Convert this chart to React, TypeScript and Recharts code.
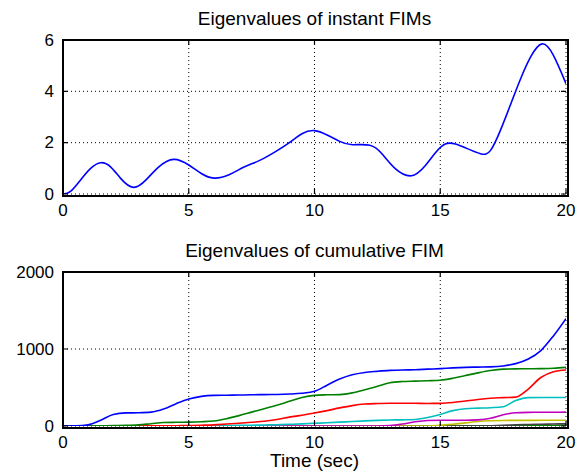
import React from "react";
import { LineChart, Line, XAxis, YAxis, CartesianGrid } from "recharts";

// ---- data ----
const topTimes = [0, 0.3, 0.7, 1.1, 1.5, 1.9, 2.3, 2.8, 3.3, 3.8, 4.4, 5.0, 5.5, 6.0, 6.6, 7.2, 7.8, 8.4, 9.0, 9.5, 10.0, 10.5, 11.0, 11.5, 12.2, 12.7, 13.2, 13.85, 14.4, 14.8, 15.2, 15.6, 16.0, 16.6, 17.0, 17.4, 17.8, 18.2, 18.6, 19.05, 19.5, 20];
const topValues = [0, 0.1, 0.55, 1.0, 1.22, 1.05, 0.6, 0.26, 0.55, 1.05, 1.35, 1.13, 0.8, 0.62, 0.75, 1.05, 1.3, 1.62, 2.0, 2.35, 2.47, 2.3, 2.05, 1.92, 1.9, 1.55, 1.0, 0.71, 1.1, 1.6, 1.95, 1.95, 1.8, 1.57, 1.7, 2.5, 3.5, 4.5, 5.35, 5.85, 5.4, 4.3];

const bottomTimes = [0, 0.5, 1, 1.5, 2, 2.5, 3, 3.5, 4, 4.5, 5, 5.5, 6, 6.5, 7, 7.5, 8, 8.5, 9, 9.5, 10, 10.5, 11, 11.5, 12, 12.5, 13, 13.5, 14, 14.5, 15, 15.5, 16, 16.5, 17, 17.5, 18, 18.5, 19, 19.5, 20];
const eigBlue = [0, 2, 15, 75, 150, 170, 172, 180, 220, 290, 350, 385, 398, 400, 402, 405, 408, 410, 415, 425, 450, 530, 610, 665, 695, 710, 722, 728, 730, 738, 745, 755, 762, 765, 768, 780, 810, 870, 980, 1170, 1395];
const eigGreen = [0, 0, 0, 2, 5, 8, 15, 30, 45, 48, 50, 55, 65, 95, 135, 180, 225, 270, 320, 370, 398, 405, 408, 430, 470, 515, 562, 578, 583, 588, 595, 620, 655, 690, 720, 738, 742, 743, 745, 750, 762];
const eigRed = [0, 0, 0, 0, 0, 0, 1, 2, 3, 4, 6, 10, 15, 25, 35, 48, 62, 85, 115, 140, 168, 200, 235, 265, 285, 292, 295, 296, 295, 293, 294, 305, 325, 345, 360, 368, 375, 480, 630, 705, 728];
const eigCyan = [0, 0, 0, 0, 0, 0, 0, 0, 0, 1, 2, 3, 4, 6, 8, 10, 13, 17, 22, 28, 35, 42, 50, 58, 66, 73, 78, 80, 85, 110, 150, 200, 225, 232, 238, 250, 330, 368, 370, 370, 370];
const eigMagenta = [0, 0, 0, 0, 0, 0, 0, 0, 0, 0, 0, 0, 0, 0, 0, 0, 0, 0, 0, 0, 0, 0, 0, 0, 0, 0, 5, 25, 55, 72, 75, 75, 75, 80, 100, 145, 172, 177, 178, 179, 180];
const eigYellow = [0, 0, 0, 0, 0, 0, 0, 0, 0, 0, 0, 0, 0, 0, 0, 0, 0, 0, 0, 0, 0, 0, 0, 0, 0, 0, 0, 0, 0, 0, 10, 22, 40, 58, 68, 72, 73, 73, 74, 74, 75];
const eigGray = [0, 0, 0, 0, 0, 0, 0, 0, 0, 0, 0, 0, 0, 0, 0, 0, 0, 0, 0, 0, 0, 0, 0, 0, 0, 0, 0, 0, 0, 0, 0, 0, 0, 0, 3, 8, 14, 19, 23, 26, 28];
const eigGreen2 = [0, 0, 0, 0, 0, 0, 0, 0, 0, 0, 0, 0, 0, 0, 0, 0, 0, 0, 0, 0, 0, 0, 0, 0, 0, 0, 0, 0, 0, 0, 0, 0, 1, 1, 2, 3, 4, 5, 6, 7, 8];

const xTicks = [0, 5, 10, 15, 20];
const topYTicks = [0, 2, 4, 6];
const bottomYTicks = [0, 1000, 2000];

const titleTop = "Eigenvalues of instant FIMs";
const titleBottom = "Eigenvalues of cumulative FIM";
const xLabel = "Time (sec)";

const topData = topTimes.map((t, i) => ({ t, v: topValues[i] }));
const bottomData = bottomTimes.map((t, i) => ({
  t,
  b: eigBlue[i],
  g: eigGreen[i],
  r: eigRed[i],
  c: eigCyan[i],
  m: eigMagenta[i],
  y: eigYellow[i],
  k: eigGray[i],
  g2: eigGreen2[i],
}));

// ---- style ----
const FONT = "'Liberation Sans', Arial, Helvetica, sans-serif";
const PL = 63; // plot left
const PW = 503; // plot width
const PH = 154; // plot height
const TICK_FS = 17;

const XTick = (props: any) => {
  const { x, y, payload } = props;
  const d = `M ${x} ${y} L ${x} ${y - 5} M ${x} ${y - PH} L ${x} ${y - PH + 5}`;
  return (
    <g>
      <path d={d} style={{ stroke: "#000", strokeWidth: 1.2, fill: "none" }} />
      <text x={x} y={y + 16} textAnchor="middle" dominantBaseline="central" fontSize={TICK_FS} fontFamily={FONT} fill="#000">
        {payload.value}
      </text>
    </g>
  );
};

const YTick = (props: any) => {
  const { x, y, payload } = props;
  const d = `M ${x} ${y} L ${x + 5} ${y} M ${x + PW} ${y} L ${x + PW - 5} ${y}`;
  return (
    <g>
      <path d={d} style={{ stroke: "#000", strokeWidth: 1.2, fill: "none" }} />
      <text x={x - 9} y={y} textAnchor="end" dominantBaseline="central" fontSize={TICK_FS} fontFamily={FONT} fill="#000">
        {payload.value}
      </text>
    </g>
  );
};

const titleStyle = (top: number): React.CSSProperties => ({
  position: "absolute",
  left: PL,
  width: PW,
  top,
  textAlign: "center",
  fontFamily: FONT,
  fontSize: 19,
  lineHeight: "22px",
  color: "#000",
  whiteSpace: "nowrap",
});

const frameStyle = (top: number): React.CSSProperties => ({
  position: "absolute",
  left: PL - 1,
  top: top - 1,
  width: PW,
  height: PH,
  border: "2px solid #000",
  boxSizing: "content-box",
  margin: 0,
  padding: 0,
  pointerEvents: "none",
  zIndex: 5,
});

const lineProps = {
  dot: false,
  isAnimationActive: false,
  strokeWidth: 1.6,
};

export default function App() {
  return (
    <div style={{ position: "absolute", left: 0, top: 0, width: 579, height: 475, background: "#fff", overflow: "hidden" }}>
      <div style={titleStyle(8)}>{titleTop}</div>
      <div style={{ position: "absolute", left: 0, top: 0 }}>
        <LineChart width={579} height={230} data={topData} margin={{ top: 40, right: 13, bottom: 6, left: 0 }}>
          <CartesianGrid stroke="#000" strokeDasharray="1 3" strokeWidth={1} />
          <XAxis dataKey="t" type="number" domain={[0, 20]} ticks={xTicks} height={30} tickSize={0} tickMargin={0} axisLine={false} tick={<XTick />} interval={0} allowDataOverflow />
          <YAxis type="number" domain={[0, 6]} ticks={topYTicks} width={63} tickSize={0} tickMargin={0} axisLine={false} tick={<YTick />} interval={0} allowDataOverflow />
          <Line type="natural" dataKey="v" stroke="#0000FF" {...lineProps} />
        </LineChart>
      </div>
      <div style={titleStyle(240)}>{titleBottom}</div>
      <div style={{ position: "absolute", left: 0, top: 230 }}>
        <LineChart width={579} height={245} data={bottomData} margin={{ top: 42, right: 13, bottom: 19, left: 0 }}>
          <CartesianGrid stroke="#000" strokeDasharray="1 3" strokeWidth={1} />
          <XAxis dataKey="t" type="number" domain={[0, 20]} ticks={xTicks} height={30} tickSize={0} tickMargin={0} axisLine={false} tick={<XTick />} interval={0} allowDataOverflow />
          <YAxis type="number" domain={[0, 2000]} ticks={bottomYTicks} width={63} tickSize={0} tickMargin={0} axisLine={false} tick={<YTick />} interval={0} allowDataOverflow />
          <Line type="monotone" dataKey="g2" stroke="#008000" {...lineProps} />
          <Line type="monotone" dataKey="k" stroke="#404040" {...lineProps} />
          <Line type="monotone" dataKey="y" stroke="#BFBF00" {...lineProps} />
          <Line type="monotone" dataKey="m" stroke="#BF00BF" {...lineProps} />
          <Line type="monotone" dataKey="c" stroke="#00BFBF" {...lineProps} />
          <Line type="monotone" dataKey="r" stroke="#FF0000" {...lineProps} />
          <Line type="monotone" dataKey="g" stroke="#008000" {...lineProps} />
          <Line type="monotone" dataKey="b" stroke="#0000FF" {...lineProps} />
        </LineChart>
      </div>
      <div style={frameStyle(40)} />
      <div style={frameStyle(272)} />
      <div style={{ position: "absolute", left: PL, width: PW, top: 451, textAlign: "center", fontFamily: FONT, fontSize: 19, lineHeight: "19px", color: "#000" }}>
        {xLabel}
      </div>
    </div>
  );
}
